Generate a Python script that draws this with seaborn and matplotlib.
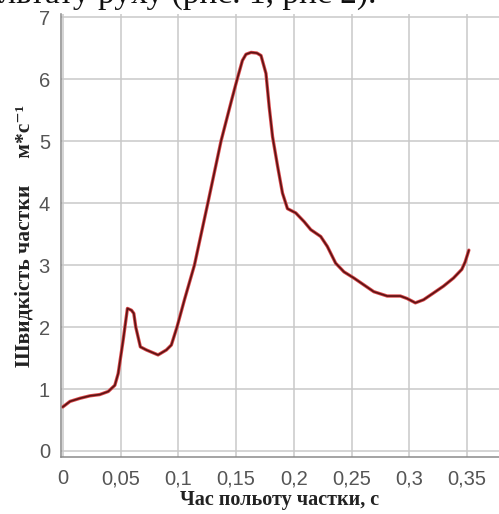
import numpy as np
import pandas as pd
import matplotlib
matplotlib.use("Agg")
import matplotlib.pyplot as plt
from matplotlib.ticker import MultipleLocator
import seaborn as sns

# ---- data ----
time_s = [0.0, 0.0063, 0.0149, 0.0236, 0.032, 0.0394, 0.0451, 0.048, 0.0523, 0.056,
          0.0595, 0.0615, 0.0632, 0.0672, 0.0724, 0.0825, 0.0897, 0.094, 0.0989, 0.1055,
          0.114, 0.1256, 0.137, 0.146, 0.151, 0.1555, 0.1586, 0.163, 0.168, 0.1716,
          0.1759, 0.1787, 0.1816, 0.186, 0.1902, 0.1945, 0.2017, 0.2089, 0.2147, 0.2233,
          0.229, 0.2362, 0.2434, 0.252, 0.2606, 0.2692, 0.2808, 0.2922, 0.298, 0.3052,
          0.3123, 0.321, 0.3296, 0.3382, 0.3454, 0.3483, 0.3515]
speed = [0.71, 0.80, 0.85, 0.89, 0.91, 0.96, 1.06, 1.25, 1.79, 2.30,
         2.27, 2.22, 2.00, 1.68, 1.63, 1.55, 1.63, 1.71, 2.00, 2.45,
         3.00, 4.00, 5.00, 5.65, 6.00, 6.30, 6.40, 6.43, 6.42, 6.38,
         6.09, 5.55, 5.07, 4.59, 4.16, 3.91, 3.84, 3.70, 3.57, 3.46,
         3.30, 3.03, 2.89, 2.79, 2.68, 2.57, 2.50, 2.50, 2.46, 2.39,
         2.44, 2.55, 2.66, 2.79, 2.93, 3.05, 3.24]

x_ticks = [0, 0.05, 0.1, 0.15, 0.2, 0.25, 0.3, 0.35]
x_tick_labels = ["0", "0,05", "0,1", "0,15", "0,2", "0,25", "0,3", "0,35"]
y_ticks = [0, 1, 2, 3, 4, 5, 6, 7]
y_tick_labels = ["0", "1", "2", "3", "4", "5", "6", "7"]

x_label = "Час польоту частки, с"
y_label = "Швидкість частки     м*с⁻¹"
top_text = "результату руху (рис. 1, рис 2)."

df = pd.DataFrame({"t": time_s, "v": speed})

sns.set_style("white")
plt.rcParams["font.family"] = ["Liberation Sans", "DejaVu Sans"]

W, H = 499, 514
fig = plt.figure(figsize=(W / 100, H / 100), dpi=100)
ax = fig.add_axes([61 / W, (H - 457) / H, 438 / W, (457 - 14) / H])

# line: red halo under a dark maroon core
sns.lineplot(data=df, x="t", y="v", ax=ax, sort=False, estimator=None,
             color="#d9474a", linewidth=2.4)
sns.lineplot(data=df, x="t", y="v", ax=ax, sort=False, estimator=None,
             color="#5c1414", linewidth=1.2)

ax.set_xlim(-0.0015, (499 - 61) / 1160)
ax.set_ylim(-0.097, 7.05)

ax.set_xticks(x_ticks)
ax.set_xticklabels(x_tick_labels)
ax.set_yticks(y_ticks)
ax.set_yticklabels(y_tick_labels)
ax.xaxis.set_minor_locator(MultipleLocator(0.05 / 8))
ax.yaxis.set_minor_locator(MultipleLocator(0.125))

ax.grid(True, which="major", color="#c9c9c9", linewidth=1.1)
ax.set_axisbelow(True)

for s in ["top", "right"]:
    ax.spines[s].set_visible(False)
for s in ["left", "bottom"]:
    ax.spines[s].set_color("#8a8a8a")
    ax.spines[s].set_linewidth(1.1)

ax.tick_params(axis="both", which="major", length=3, width=1.0, color="#6a6a6a",
               labelsize=14.5, labelcolor="#555555")
ax.tick_params(axis="x", which="major", pad=6)
ax.tick_params(axis="y", which="major", pad=5)
ax.tick_params(axis="both", which="minor", length=1.8, width=1.0, color="#6a6a6a")

ax.set_xlabel(x_label, fontsize=14.5, fontweight="bold",
              family=["Liberation Serif", "DejaVu Serif"], color="#222222", labelpad=1)
ax.set_ylabel(y_label, fontsize=15.5, fontweight="bold",
              family=["Liberation Serif", "DejaVu Serif"], color="#222222", labelpad=3)

fig.text(376 / W, 1 - 3 / H, top_text, ha="right", va="baseline",
         fontsize=24, family=["Liberation Serif", "DejaVu Serif"], color="#111111")

fig.savefig("out.png", dpi=100)
